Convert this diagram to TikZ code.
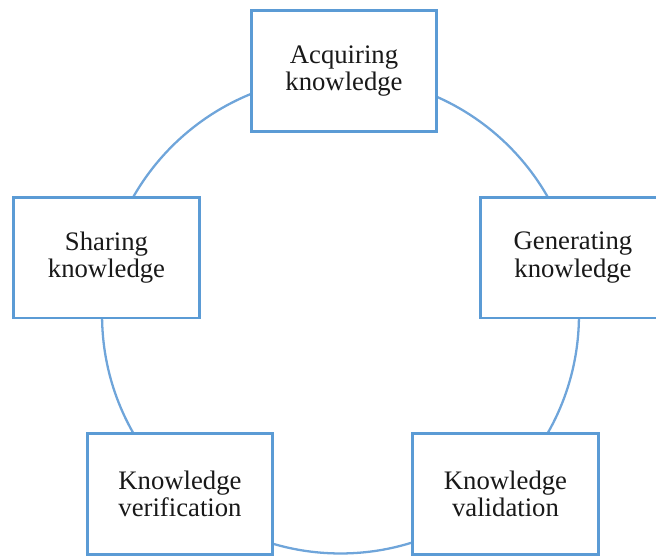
\documentclass[tikz,border=0pt]{standalone}
\usepackage{fontspec}
\setmainfont{Liberation Serif}
\usepackage{xcolor}

\definecolor{boxblue}{HTML}{5B9BD5}
\definecolor{ringblue}{HTML}{6FA5DA}

\begin{document}
\begin{tikzpicture}[x=0.02cm,y=-0.02cm,
  stage/.style={rectangle,draw=boxblue,line width=1.7pt,fill=white,
    minimum width=3.72cm,minimum height=2.42cm,inner sep=0pt,
    align=center,text=black!90,font=\fontsize{15.2}{15.6}\selectfont}]

\useasboundingbox (0,0) rectangle (656,556);

\node(ring) at (340.5,315)[circle,draw=ringblue,line width=1.3pt,inner sep=0pt,minimum size=9.54cm] {};

\node(acq) at (344,71)[stage] {Acquiring\\knowledge};
\node(gen) at (573,257.5)[stage] {Generating\\knowledge};
\node(val) at (505.5,494)[stage] {Knowledge\\validation};
\node(ver) at (180,494)[stage] {Knowledge\\verification};
\node(sha) at (106.5,257.5)[stage] {Sharing\\knowledge};

\end{tikzpicture}
\end{document}
